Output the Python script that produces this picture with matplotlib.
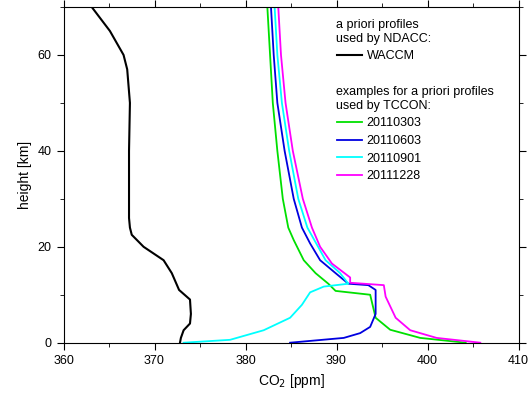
import matplotlib
matplotlib.use("Agg")
import matplotlib.pyplot as plt
from matplotlib.ticker import MultipleLocator
from matplotlib.lines import Line2D
plt.rcParams['font.family'] = ['Liberation Sans', 'DejaVu Sans']

waccm_h = [0, 1.0, 2.6, 4, 6, 9, 11, 14.5, 17.2, 20, 22.5, 24, 26, 40, 50, 57, 60, 65, 70]
waccm_x = [372.8, 372.9, 373.2, 373.9, 374.0, 373.9, 372.7, 371.9, 371.0, 368.8, 367.5, 367.3, 367.2, 367.2, 367.3, 367.0, 366.6, 365.1, 363.1]

g_h = [0, 1, 2.7, 5.2, 10, 10.8, 12.3, 14.5, 17.2, 21.4, 24, 30, 40, 50, 60, 70]
g_x = [404.2, 399.2, 395.9, 394.3, 393.7, 389.9, 389.1, 387.7, 386.4, 385.3, 384.7, 384.1, 383.5, 383.0, 382.7, 382.4]
b_h = [0, 1, 2, 3.3, 6, 11, 12, 12.3, 14.5, 17.2, 20.7, 24, 30, 40, 50, 60, 70]
b_x = [384.9, 390.8, 392.6, 393.7, 394.3, 394.3, 393.5, 391.3, 389.9, 388.2, 387.1, 386.2, 385.3, 384.3, 383.5, 383.1, 382.8]
c_h = [0, 0.6, 2.6, 5.2, 7.9, 10.5, 11.7, 12.3, 14.5, 17.2, 24, 30, 40, 50, 60, 70]
c_x = [373.2, 378.3, 382.0, 384.9, 386.2, 387.1, 388.6, 391.3, 390.4, 388.8, 386.8, 385.8, 384.8, 384.0, 383.5, 383.2]
m_h = [0, 1, 2.6, 5.2, 9.6, 12, 12.5, 13.6, 16.5, 20, 24, 30, 40, 50, 60, 70]
m_x = [405.8, 401.0, 398.1, 396.5, 395.4, 395.2, 391.5, 391.5, 389.5, 388.2, 387.3, 386.3, 385.2, 384.4, 383.9, 383.6]

fig = plt.figure(figsize=(5.29, 4.01), dpi=100)
ax = fig.add_axes([63.5/529, 1-342.7/401, (518.5-63.5)/529, (342.7-7)/401])
ax.plot(waccm_x, waccm_h, color='black', lw=1.5)
ax.plot(g_x, g_h, color='#00e000', lw=1.3)
ax.plot(b_x, b_h, color='#0000e0', lw=1.3)
ax.plot(c_x, c_h, color='#00ffff', lw=1.3)
ax.plot(m_x, m_h, color='#ff00ff', lw=1.3)
ax.set_xlim(360, 410)
ax.set_ylim(0, 70)
ax.xaxis.set_major_locator(MultipleLocator(10))
ax.xaxis.set_minor_locator(MultipleLocator(5))
ax.yaxis.set_major_locator(MultipleLocator(20))
ax.yaxis.set_minor_locator(MultipleLocator(10))
ax.tick_params(which='both', top=True, right=True, direction='out', labelsize=9)
ax.tick_params(which='major', length=5)
ax.tick_params(which='minor', length=3)
ax.set_xlabel('CO$_2$ [ppm]', fontsize=10)
ax.set_ylabel('height [km]', fontsize=10)

kw = dict(loc='upper left', frameon=False, fontsize=9, title_fontsize=9,
          handlelength=2.0, handletextpad=0.4, borderaxespad=0, borderpad=0, labelspacing=0.45)
h1 = [Line2D([], [], color='black', lw=1.5)]
l1 = ax.legend(h1, ['WACCM'], title='a priori profiles\nused by NDACC:',
               bbox_to_anchor=(0.60, 0.965), **kw)
l1._legend_box.align = 'left'
ax.add_artist(l1)
h2 = [Line2D([], [], color=c, lw=1.3) for c in ['#00e000', '#0000e0', '#00ffff', '#ff00ff']]
l2 = ax.legend(h2, ['20110303', '20110603', '20110901', '20111228'],
               title='examples for a priori profiles\nused by TCCON:',
               bbox_to_anchor=(0.60, 0.765), **kw)
l2._legend_box.align = 'left'
fig.savefig('out.png', dpi=100)
